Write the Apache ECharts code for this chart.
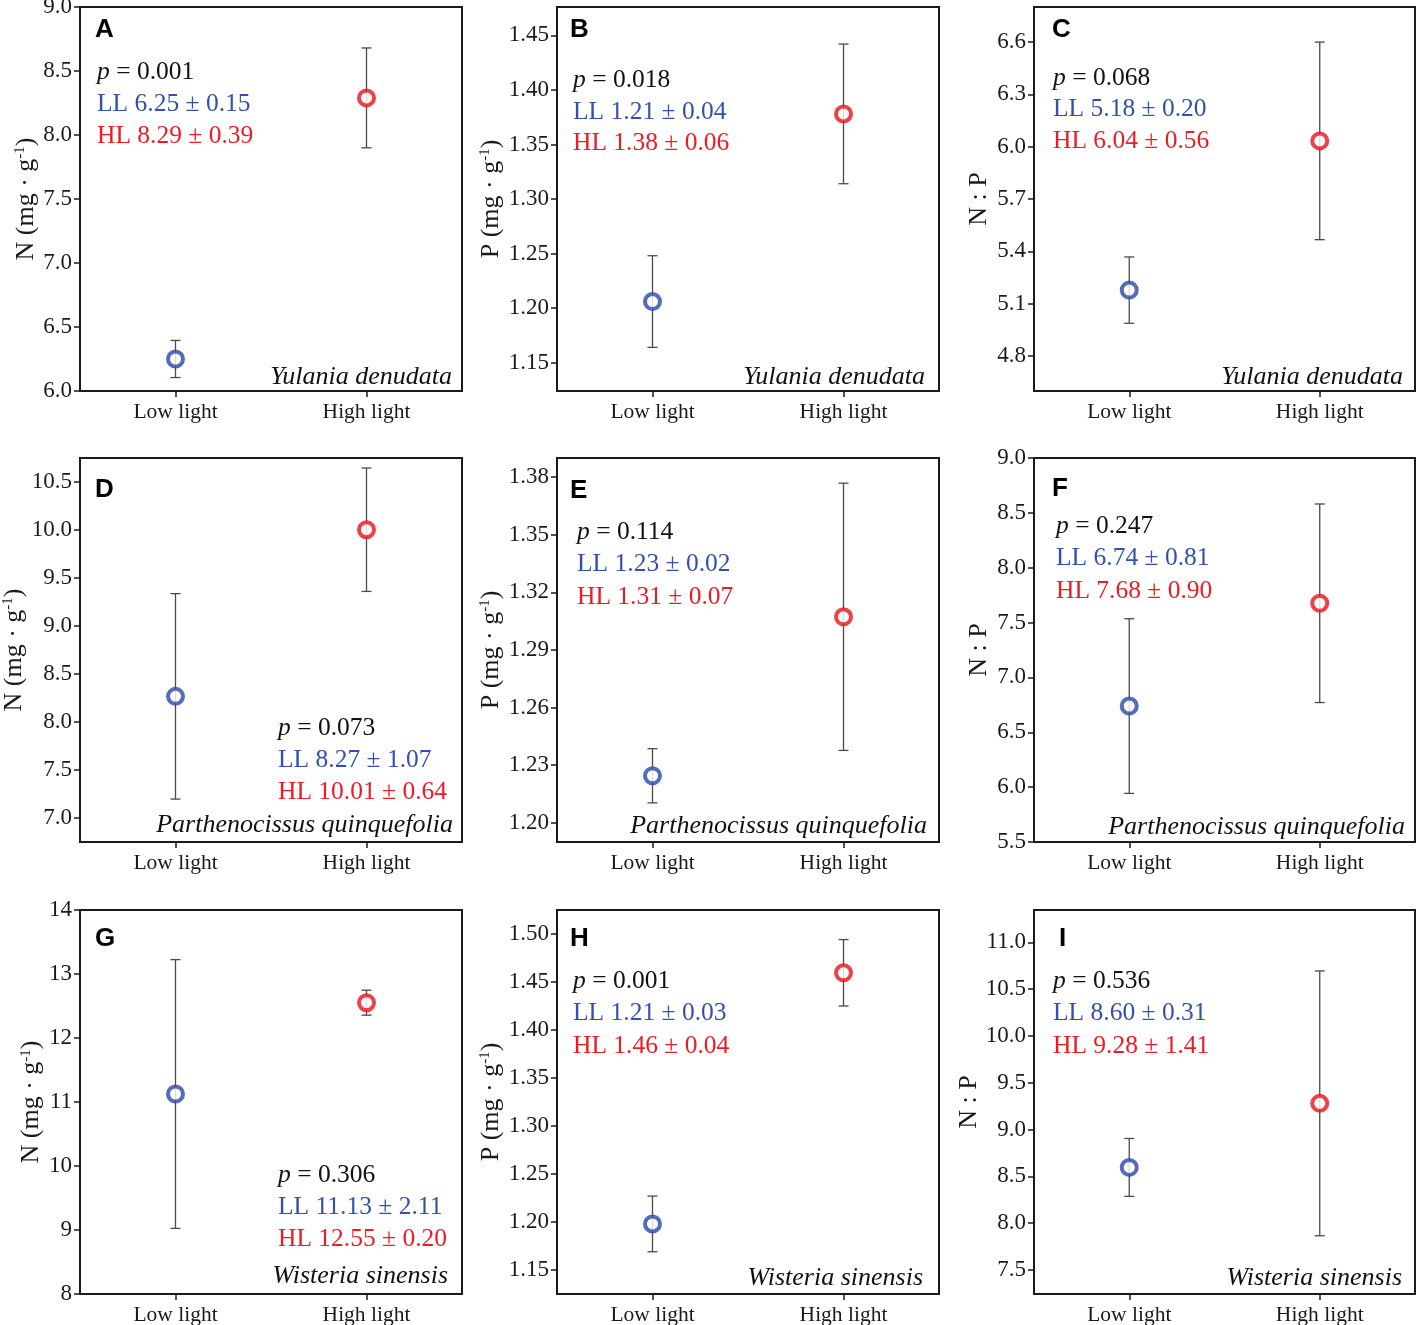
<!DOCTYPE html>
<html>
<head>
<meta charset="utf-8">
<script src="https://cdn.jsdelivr.net/npm/echarts@6/dist/echarts.min.js"></script>
<style>
html,body{margin:0;padding:0;background:#fff;}
#chart{width:1417px;height:1325px;}
</style>
</head>
<body>
<div id="chart"></div>
<script>
// ---------- DATA ----------
var categories = ['Low light', 'High light'];
var panelLetters = ['A','B','C','D','E','F','G','H','I'];
var yNames = ['N (mg · g{sup|-1})','P (mg · g{sup|-1})','N : P',
              'N (mg · g{sup|-1})','P (mg · g{sup|-1})','N : P',
              'N (mg · g{sup|-1})','P (mg · g{sup|-1})','N : P'];
var species = ['Yulania denudata','Yulania denudata','Yulania denudata',
               'Parthenocissus quinquefolia','Parthenocissus quinquefolia','Parthenocissus quinquefolia',
               'Wisteria sinensis','Wisteria sinensis','Wisteria sinensis'];
var pValues = ['0.001','0.018','0.068','0.073','0.114','0.247','0.306','0.001','0.536'];
var llText = ['LL 6.25 ± 0.15','LL 1.21 ± 0.04','LL 5.18 ± 0.20','LL 8.27 ± 1.07','LL 1.23 ± 0.02',
              'LL 6.74 ± 0.81','LL 11.13 ± 2.11','LL 1.21 ± 0.03','LL 8.60 ± 0.31'];
var hlText = ['HL 8.29 ± 0.39','HL 1.38 ± 0.06','HL 6.04 ± 0.56','HL 10.01 ± 0.64','HL 1.31 ± 0.07',
              'HL 7.68 ± 0.90','HL 12.55 ± 0.20','HL 1.46 ± 0.04','HL 9.28 ± 1.41'];
var llMean = [6.25, 1.206, 5.178, 8.267, 1.2245, 6.739, 11.125, 1.198, 8.596];
var llErr  = [0.145, 0.042, 0.19, 1.07, 0.0141, 0.796, 2.1, 0.029, 0.309];
var hlMean = [8.29, 1.378, 6.033, 10.003, 1.3073, 7.676, 12.552, 1.4596, 9.28];
var hlErr  = [0.39, 0.064, 0.566, 0.643, 0.0696, 0.905, 0.195, 0.0346, 1.414];
var yMin = [6.0, 1.124, 4.6, 6.75, 1.19, 5.5, 8, 1.125, 7.244];
var yMax = [9.0, 1.476, 6.8, 10.75, 1.39, 9.0, 14, 1.525, 11.345];
var yTickLabels = [
  ['6.0','6.5','7.0','7.5','8.0','8.5','9.0'],
  ['1.15','1.20','1.25','1.30','1.35','1.40','1.45'],
  ['4.8','5.1','5.4','5.7','6.0','6.3','6.6'],
  ['7.0','7.5','8.0','8.5','9.0','9.5','10.0','10.5'],
  ['1.20','1.23','1.26','1.29','1.32','1.35','1.38'],
  ['5.5','6.0','6.5','7.0','7.5','8.0','8.5','9.0'],
  ['8','9','10','11','12','13','14'],
  ['1.15','1.20','1.25','1.30','1.35','1.40','1.45','1.50'],
  ['7.5','8.0','8.5','9.0','9.5','10.0','10.5','11.0']
];

// ---------- LAYOUT ----------
var colLeft = [80, 557, 1034];
var colWidth = [382, 382, 381];
var rowTop = [7, 458, 910];
var boxHeight = 384;
var nameGaps = [41, 51, 42, 50, 52, 42, 35, 51, 52];
var textX = [97, 573, 1053, 278, 577, 1056, 278, 573, 1053];
var textY = [[72,104,136],[80,112,143],[78,109,141],[728,760,792],[532,564,597],[526,558,591],[1175,1207,1239],[981,1013,1046],[981,1013,1046]];
var speciesRight = [452, 925, 1403, 453, 927, 1405, 448, 923, 1402];
var speciesY = [377, 377, 377, 825, 826, 827, 1276, 1278, 1278];
var letterX = [95, 570, 1052, 95, 570, 1052, 95, 570, 1059];
var letterY = [30, 30, 30, 490, 491, 489, 939, 939, 939];

var SERIF = "'Liberation Serif','Times New Roman',serif";
var SANS = "'Liberation Sans',Arial,sans-serif";
var BLUE = '#2b49a6';
var RED = '#e8121b';
var BLUE_T = '#3351ac';
var RED_T = '#ec1c24';
var AXIS = '#1a1a1a';

var grids = [], xAxes = [], yAxes = [], series = [], graphics = [];

for (var i = 0; i < 9; i++) {
  var r = Math.floor(i / 3), c = i % 3;
  grids.push({
    left: colLeft[c], top: rowTop[r], width: colWidth[c], height: boxHeight,
    containLabel: false, outerBoundsMode: 'none',
    show: true, borderColor: AXIS, borderWidth: 2, backgroundColor: 'transparent'
  });
  xAxes.push({
    type: 'category', gridIndex: i, data: categories, boundaryGap: true,
    axisLine: { show: true, lineStyle: { color: AXIS, width: 2 } },
    axisTick: { show: true, alignWithLabel: true, length: 6, lineStyle: { color: AXIS, width: 1.5 } },
    axisLabel: { color: '#1a1a1a', fontFamily: SERIF, fontSize: 21.5, margin: 10 },
    splitLine: { show: false }
  });
  (function (labels) {
    var vals = labels.map(function (s) { return parseFloat(s); });
    yAxes.push({
      type: 'value', gridIndex: i, min: yMin[i], max: yMax[i],
      name: yNames[i], nameLocation: 'middle', nameGap: nameGaps[i],
      nameTextStyle: {
        fontFamily: SERIF, fontSize: 26, color: '#1a1a1a', lineHeight: 26,
        rich: { sup: { fontFamily: SERIF, fontSize: 15, color: '#1a1a1a', lineHeight: 14, padding: [0, 0, 12, 0] } }
      },
      axisLine: { show: true, lineStyle: { color: AXIS, width: 2 } },
      axisTick: { show: true, customValues: vals, length: 6, lineStyle: { color: AXIS, width: 1.5 } },
      axisLabel: {
        customValues: vals, color: '#1a1a1a', fontFamily: SERIF, fontSize: 23, margin: 8,
        formatter: function (v) {
          for (var k = 0; k < vals.length; k++) if (Math.abs(vals[k] - v) < 1e-9) return labels[k];
          return '';
        }
      },
      splitLine: { show: false }
    });
  })(yTickLabels[i]);

  series.push({
    type: 'custom', xAxisIndex: i, yAxisIndex: i, z: 2,
    encode: { x: 0, y: [1, 2] },
    data: [[0, llMean[i] - llErr[i], llMean[i] + llErr[i]], [1, hlMean[i] - hlErr[i], hlMean[i] + hlErr[i]]],
    renderItem: function (params, api) {
      var x = api.value(0);
      var pLo = api.coord([x, api.value(1)]);
      var pHi = api.coord([x, api.value(2)]);
      var w = 5;
      var st = { stroke: '#4a4a4a', lineWidth: 1.3 };
      return {
        type: 'group', children: [
          { type: 'line', shape: { x1: pHi[0], y1: pHi[1], x2: pLo[0], y2: pLo[1] }, style: st },
          { type: 'line', shape: { x1: pHi[0] - w, y1: pHi[1], x2: pHi[0] + w, y2: pHi[1] }, style: st },
          { type: 'line', shape: { x1: pLo[0] - w, y1: pLo[1], x2: pLo[0] + w, y2: pLo[1] }, style: st }
        ]
      };
    }
  });
  series.push({
    type: 'scatter', xAxisIndex: i, yAxisIndex: i, z: 3,
    symbol: 'circle', symbolSize: 15,
    data: [
      { value: [0, llMean[i]], itemStyle: { color: '#fff', borderColor: BLUE, borderWidth: 4 } },
      { value: [1, hlMean[i]], itemStyle: { color: '#fff', borderColor: RED, borderWidth: 4 } }
    ],
    emphasis: { disabled: true }
  });

  graphics.push({
    type: 'text', x: letterX[i], y: letterY[i], z: 10,
    style: { text: panelLetters[i], font: 'bold 26px ' + SANS, fill: '#000', textVerticalAlign: 'middle', textAlign: 'left' }
  });
  graphics.push({
    type: 'text', x: textX[i], y: textY[i][0], z: 10,
    style: {
      text: '{i|p} = ' + pValues[i], fontFamily: SERIF, fontSize: 25.5, fill: '#111',
      textVerticalAlign: 'middle', textAlign: 'left',
      rich: { i: { fontFamily: SERIF, fontSize: 25.5, fontStyle: 'italic', fill: '#111' } }
    }
  });
  graphics.push({
    type: 'text', x: textX[i], y: textY[i][1], z: 10,
    style: { text: llText[i], font: '25.5px ' + SERIF, fill: BLUE_T, textVerticalAlign: 'middle', textAlign: 'left' }
  });
  graphics.push({
    type: 'text', x: textX[i], y: textY[i][2], z: 10,
    style: { text: hlText[i], font: '25.5px ' + SERIF, fill: RED_T, textVerticalAlign: 'middle', textAlign: 'left' }
  });
  graphics.push({
    type: 'text', x: speciesRight[i], y: speciesY[i], z: 10,
    style: { text: species[i], font: 'italic 26px ' + SERIF, fill: '#111', textVerticalAlign: 'middle', textAlign: 'right' }
  });
}

var chart = echarts.init(document.getElementById('chart'), null, { renderer: 'canvas' });
chart.setOption({
  backgroundColor: '#fff',
  animation: false,
  grid: grids,
  xAxis: xAxes,
  yAxis: yAxes,
  series: series,
  graphic: graphics
});
</script>
</body>
</html>
